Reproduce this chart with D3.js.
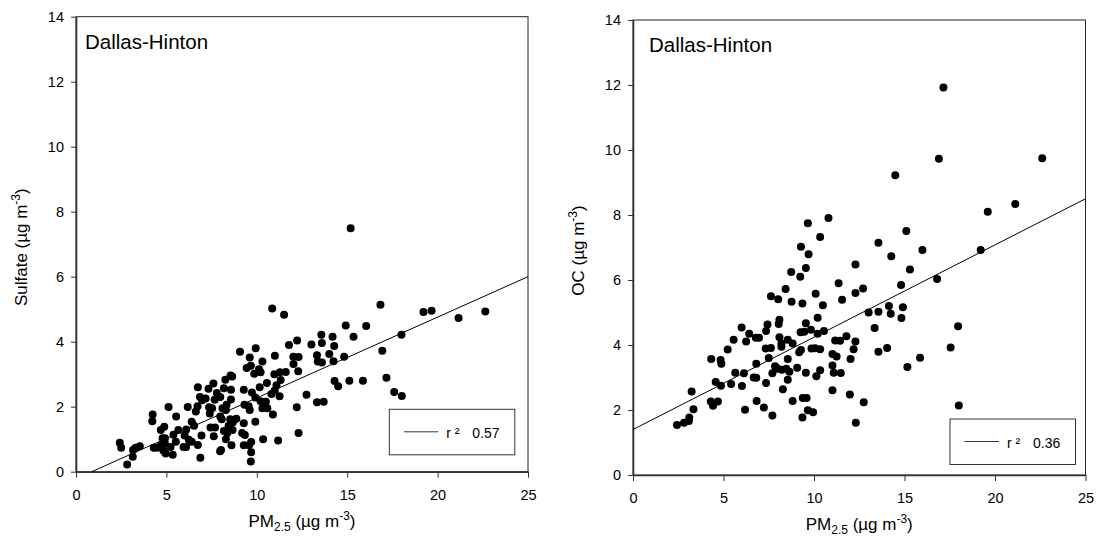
<!DOCTYPE html>
<html>
<head>
<meta charset="utf-8">
<script src="https://cdn.jsdelivr.net/npm/d3@7"></script>
<style>
body { margin: 0; background: #fff; }
text { font-family: "Liberation Sans", Arial, sans-serif; fill: #000; }
</style>
</head>
<body>
<svg id="chart" width="1099" height="552"></svg>
<script>

const xTicks = [0, 5, 10, 15, 20, 25];
const yTicks = [0, 2, 4, 6, 8, 10, 12, 14];
const siteName = "Dallas-Hinton";

// sulfate vs PM2.5
const sulfatePM = [15.19,10.85,11.51,16.84,19.22,19.67,21.16,22.64,14.92,16.05,15.35,18.0,16.94,17.17,17.60,18.02,15.87,15.12,14.30,14.50,
  14.83,14.19,14.28,14.24,14.01,13.57,13.60,13.60,13.33,13.37,13.02,13.33,13.70,12.75,12.23,11.78,12.02,12.31,12.03,12.29,
  12.21,12.31,11.0,11.6,11.28,10.97,11.32,11.09,10.99,11.26,10.89,11.18,10.31,10.21,10.56,10.81,9.94,9.61,9.44,9.67,
  10.12,9.86,9.07,9.28,9.73,10.16,9.92,10.21,10.50,10.58,10.31,9.32,9.55,9.61,9.92,9.28,9.34,9.19,9.28,9.57,
  9.69,9.69,9.67,10.35,8.55,8.64,8.26,8.57,8.57,8.33,8.10,8.29,7.60,8.18,7.79,7.98,7.67,7.33,6.74,6.86,
  6.98,7.17,7.36,7.53,6.72,6.63,7.40,7.98,8.06,8.53,8.68,8.87,8.44,8.66,8.37,7.69,7.44,7.62,8.18,8.29,
  8.60,8.02,7.97,6.94,6.74,6.88,6.18,6.53,6.40,6.10,6.01,6.24,6.40,6.09,5.95,5.12,5.54,5.66,5.39,5.52,
  5.23,5.35,4.88,4.69,4.79,4.92,4.92,4.69,4.83,4.96,4.24,4.22,4.30,4.48,3.53,3.29,3.16,3.14,2.83,2.42,2.50];
const sulfate = [7.49,5.02,4.83,5.14,4.91,4.95,4.73,4.93,4.50,4.48,4.15,4.21,3.72,2.89,2.45,2.33,2.80,2.80,2.79,2.63,
  3.54,4.15,3.87,3.40,3.62,4.21,3.96,3.36,3.58,3.39,3.91,2.14,2.15,2.37,4.04,3.90,3.54,3.53,3.31,3.09,
  1.98,1.19,3.57,3.07,3.06,3.0,2.82,2.66,2.50,2.32,1.76,0.96,3.39,3.06,2.73,2.39,3.80,3.51,3.19,3.26,
  3.15,3.01,3.69,2.52,2.44,2.60,2.28,2.17,2.15,1.95,1.95,2.06,2.01,1.90,1.54,1.49,1.13,1.19,0.81,0.81,
  0.91,0.60,0.31,1.0,2.96,2.93,2.83,2.52,2.22,2.06,1.95,1.90,2.71,2.57,2.42,2.30,2.21,2.55,2.60,2.30,
  2.20,2.25,1.98,1.95,2.01,1.85,1.79,1.70,1.61,1.61,1.52,1.63,1.41,1.28,1.19,1.36,1.36,1.09,1.25,1.0,
  0.81,0.67,0.63,1.11,0.82,0.43,1.99,1.41,1.54,1.30,1.11,0.98,0.92,0.76,0.76,1.99,1.70,1.28,1.14,0.92,
  0.76,0.52,1.38,1.28,1.03,1.03,0.87,0.81,0.65,0.56,1.76,1.55,0.74,0.74,0.78,0.74,0.67,0.46,0.22,0.89,0.74];
const sulfateFitX = [0.87, 25];
const sulfateFitY = [0, 6.0];
const sulfateR2 = "0.57";

// OC vs PM2.5
const ocPM = [17.15,16.90,22.61,14.49,21.12,19.60,19.21,16.80,15.99,15.30,15.10,14.27,13.56,14.81,14.91,14.83,14.14,14.24,13.56,13.02,
  13.35,13.56,14.04,17.96,17.55,15.86,15.16,18.0,10.80,9.66,10.34,9.28,9.70,9.55,9.24,8.74,8.43,7.62,8.02,8.76,
  9.36,10.09,10.49,10.20,11.36,11.55,12.29,12.71,12.29,12.29,12.19,12.02,11.98,12.75,12.31,11.79,11.17,11.44,11.02,11.25,
  11.02,11.09,11.48,11.02,10.55,10.20,9.83,9.46,9.55,9.26,9.86,10.06,10.34,9.28,9.18,10.34,10.13,9.55,9.07,9.38,
  9.59,9.66,9.95,9.36,8.82,8.28,7.70,7.23,6.83,6.19,8.82,8.55,8.09,8.20,8.20,8.09,8.05,7.43,7.35,7.62,
  7.33,7.50,7.85,8.0,8.22,8.47,8.55,8.64,8.55,7.70,7.35,6.96,6.79,6.42,6.25,6.0,5.56,5.23,6.81,6.67,
  6.81,5.65,6.13,5.42,6.02,4.84,4.32,4.88,4.57,4.86,4.30,4.42,4.69,3.24,3.34,3.11,3.09,2.82,2.43];
const oc = [11.92,9.73,9.75,9.22,8.34,8.10,6.92,6.03,6.92,6.32,7.51,6.73,7.15,5.85,5.16,4.83,5.20,4.96,5.02,5.0,
  4.52,3.79,3.91,4.58,3.92,3.61,3.32,2.14,7.91,7.75,7.32,7.02,6.79,6.37,6.10,6.25,5.72,5.50,5.41,5.33,
  5.28,5.58,5.22,4.84,5.90,5.39,6.48,5.74,5.60,4.11,3.87,3.57,2.48,2.24,1.61,4.27,4.14,4.13,3.72,3.65,
  3.37,3.15,3.14,2.61,4.43,4.35,4.47,4.41,4.67,4.39,3.89,3.90,3.87,3.85,3.78,3.22,3.04,3.15,3.30,2.37,
  2.37,1.99,1.93,1.77,2.28,2.64,1.83,2.08,2.28,2.01,4.05,4.16,4.24,4.05,3.95,4.78,4.65,4.63,4.43,3.91,
  3.89,3.60,3.35,3.27,3.24,3.27,3.57,3.18,2.93,3.13,2.83,4.22,4.22,4.35,4.11,4.54,4.16,3.86,3.42,3.0,
  2.99,3.15,3.13,2.80,2.74,3.54,3.57,3.42,2.86,2.75,2.26,2.13,2.26,2.57,2.02,1.77,1.66,1.61,1.54];
const ocFitX = [0, 25];
const ocFitY = [1.4, 8.5];
const ocR2 = "0.36";

const svg = d3.select("#chart");

function drawPanel(p) {
  const g = svg.append("g").attr("transform", `translate(${p.left}, ${p.top})`);

  const x = d3.scaleLinear().domain([0, 25]).range([0, p.width]);
  const y = d3.scaleLinear().domain([0, 14]).range([p.height, 0]);

  // frame (top/right thin)
  g.append("rect")
    .attr("x", 0).attr("y", 0)
    .attr("width", p.width).attr("height", p.height)
    .attr("fill", "none").attr("stroke", "#222").attr("stroke-width", 1);

  const yAxis = g.append("g")
    .call(d3.axisLeft(y).tickValues(yTicks).tickSize(5).tickPadding(7).tickSizeOuter(0));
  const xAxis = g.append("g")
    .attr("transform", `translate(0, ${p.height})`)
    .call(d3.axisBottom(x).tickValues(xTicks).tickSize(6).tickPadding(12).tickSizeOuter(0));

  [xAxis, yAxis].forEach(a => {
    a.select(".domain").attr("stroke", "#333").attr("stroke-width", 1.6);
    a.selectAll(".tick line").attr("stroke", "#333");
    a.selectAll(".tick text").style("font-size", "14.5px").attr("fill", "#000");
  });

  // regression line
  g.append("line")
    .attr("x1", x(p.fitX[0])).attr("y1", y(p.fitY[0]))
    .attr("x2", x(p.fitX[1])).attr("y2", y(p.fitY[1]))
    .attr("stroke", "#000").attr("stroke-width", 1);

  g.selectAll("circle")
    .data(d3.range(p.xs.length))
    .enter()
    .append("circle")
    .attr("cx", i => x(p.xs[i]))
    .attr("cy", i => y(p.ys[i]))
    .attr("r", 4)
    .attr("fill", "#000");

  g.append("text")
    .attr("x", p.titleX).attr("y", p.titleY)
    .style("font-size", "20.5px")
    .text(siteName);

  // legend
  const lg = g.append("g").attr("transform", `translate(${p.legX}, ${p.legY})`);
  lg.append("rect")
    .attr("width", 125.5).attr("height", 45.5)
    .attr("fill", "#fff").attr("stroke", "#333").attr("stroke-width", 1);
  lg.append("line")
    .attr("x1", 14.5).attr("x2", 49).attr("y1", 22.5).attr("y2", 22.5)
    .attr("stroke", "#333").attr("stroke-width", 1);
  lg.append("text").attr("x", 57).attr("y", 28.5).style("font-size", "14px").text("r ²");
  lg.append("text").attr("x", 83).attr("y", 28.5).style("font-size", "14px").text(p.r2);

  // axis titles
  const xt = svg.append("text")
    .attr("x", p.left + p.width / 2).attr("y", p.xTitleY)
    .attr("text-anchor", "middle")
    .style("font-size", "17px");
  xt.append("tspan").text("PM");
  xt.append("tspan").attr("dy", 4).style("font-size", "12px").text("2.5");
  xt.append("tspan").attr("dy", -4).text(" (µg m");
  xt.append("tspan").attr("dy", -7).style("font-size", "12px").text("-3");
  xt.append("tspan").attr("dy", 7).text(")");

  const yt = svg.append("text")
    .attr("transform", `translate(${p.yTitleX}, ${p.top + p.height / 2 + 3}) rotate(-90)`)
    .attr("text-anchor", "middle")
    .style("font-size", "17px");
  yt.append("tspan").text(p.yName + " (µg m");
  yt.append("tspan").attr("dy", -7).style("font-size", "12px").text("-3");
  yt.append("tspan").attr("dy", 7).text(")");
}

drawPanel({
  left: 76, top: 16.7, width: 452, height: 455,
  xs: sulfatePM, ys: sulfate, fitX: sulfateFitX, fitY: sulfateFitY, r2: sulfateR2,
  titleX: 9, titleY: 32.5, legX: 313.3, legY: 392.6,
  xTitleY: 527, yTitleX: 27, yName: "Sulfate"
});

drawPanel({
  left: 633, top: 20, width: 452.5, height: 455,
  xs: ocPM, ys: oc, fitX: ocFitX, fitY: ocFitY, r2: ocR2,
  titleX: 16, titleY: 32, legX: 317, legY: 399,
  xTitleY: 530, yTitleX: 584, yName: "OC"
});

</script>
</body>
</html>
